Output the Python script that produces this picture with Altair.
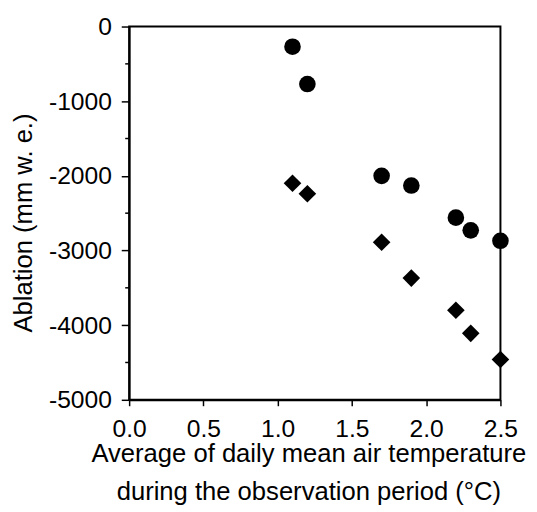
import altair as alt
import pandas as pd

# Data
temp = [1.1, 1.2, 1.7, 1.9, 2.2, 2.3, 2.5]
ablation_circle = [-270, -770, -2000, -2130, -2560, -2730, -2870]
ablation_diamond = [-2100, -2240, -2890, -3370, -3800, -4110, -4460]
series_names = ["circle", "diamond"]
x_ticks = [0.0, 0.5, 1.0, 1.5, 2.0, 2.5]
y_major = [0, -1000, -2000, -3000, -4000, -5000]
y_minor = [-500, -1500, -2500, -3500, -4500]
x_title = ["Average of daily mean air temperature", "during the observation period (\u00b0C)"]
y_title = "Ablation (mm w. e.)"

df = pd.DataFrame({
    "temp": temp + temp,
    "ablation": ablation_circle + ablation_diamond,
    "series": [series_names[0]] * len(temp) + [series_names[1]] * len(temp),
})
minor_df = pd.DataFrame({"y": y_minor})

FONT = "Liberation Sans"
xscale = alt.Scale(domain=[0, 2.5], nice=False, zero=False)
yscale = alt.Scale(domain=[-5000, 0], nice=False, zero=False)

y_axis = alt.Axis(
    values=y_major, labelExpr="'' + datum.value", title=y_title,
    labelFontSize=25, labelPadding=10, tickSize=8, labelFlush=False,
    titleFontSize=26, titleFontWeight="normal", titleAngle=270,
    titleBaseline="alphabetic", titleAlign="center", titleX=-99, titleY=199,
)

points = alt.Chart(df).mark_point(filled=True, opacity=1, color="black").encode(
    x=alt.X(
        "temp:Q", scale=xscale,
        axis=alt.Axis(
            values=x_ticks, format=".1f", title=x_title,
            labelFontSize=25, labelPadding=11, tickSize=6, labelFlush=False,
            titleFontSize=26, titleFontWeight="normal", titleLineHeight=38,
            titleBaseline="alphabetic", titleAlign="center", titleX=182, titleY=63,
        ),
    ),
    y=alt.Y("ablation:Q", scale=yscale, axis=y_axis),
    shape=alt.Shape("series:N", scale=alt.Scale(domain=series_names, range=["circle", "diamond"]), legend=None),
    size=alt.Size("series:N", scale=alt.Scale(domain=series_names, range=[285, 320]), legend=None),
)

minor = alt.Chart(minor_df).mark_rule(color="black", strokeWidth=1.5).encode(
    y=alt.Y("y:Q", scale=yscale, axis=y_axis),
    x=alt.value(-4),
    x2=alt.value(0),
)

chart = alt.layer(points, minor).properties(
    width=377, height=379,
    autosize=alt.AutoSizeParams(type="none"),
    padding={"left": 123, "top": 15, "right": 29, "bottom": 104},
    background="white",
).configure_view(
    stroke="black", strokeWidth=2,
).configure_axis(
    grid=False, domainColor="black", domainWidth=2, tickColor="black", tickWidth=1.5,
    labelColor="black", titleColor="black", labelFont=FONT, titleFont=FONT,
)

chart.save("out.html", embed_options={"renderer": "svg", "actions": False})
